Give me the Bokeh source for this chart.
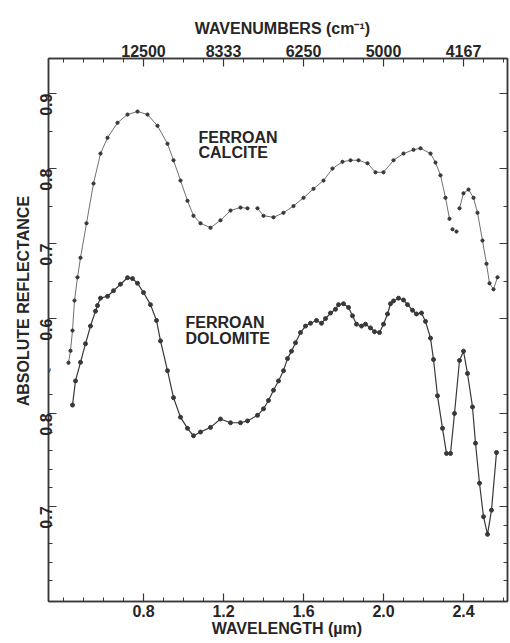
import math
import numpy as np
from bokeh.plotting import figure
from bokeh.models import (Range1d, LinearAxis, FixedTicker, CustomJSTickFormatter, Label)
from bokeh.embed import file_html
from bokeh.resources import INLINE

# ---------------- data ----------------
calcite_wl = [0.425, 0.435, 0.445, 0.455, 0.47, 0.485, 0.515, 0.55, 0.585, 0.62, 0.67, 0.72,
              0.77, 0.82, 0.87, 0.92, 0.95, 0.985, 1.02, 1.05, 1.085, 1.135, 1.185, 1.235,
              1.285, 1.32, 1.37, 1.40, 1.45, 1.50, 1.55, 1.60, 1.65, 1.70, 1.745, 1.795,
              1.835, 1.875, 1.92, 1.96, 2.0, 2.05, 2.10, 2.15, 2.185, 2.235, 2.26, 2.285,
              2.31, 2.33, 2.345, 2.365, 2.38, 2.40, 2.425, 2.45, 2.47, 2.495, 2.515, 2.53,
              2.55, 2.57]
calcite_r = [0.541, 0.557, 0.584, 0.624, 0.655, 0.681, 0.727, 0.780, 0.820, 0.841, 0.861, 0.872,
             0.876, 0.872, 0.857, 0.833, 0.811, 0.784, 0.757, 0.737, 0.727, 0.721, 0.731, 0.744,
             0.748, 0.747, 0.747, 0.737, 0.735, 0.741, 0.750, 0.761, 0.773, 0.784, 0.800, 0.809,
             0.811, 0.811, 0.807, 0.795, 0.795, 0.811, 0.820, 0.825, 0.827, 0.820, 0.808, 0.791,
             0.761, 0.733, 0.719, 0.716, 0.747, 0.767, 0.772, 0.761, 0.741, 0.704, 0.673, 0.647,
             0.639, 0.655]
# connected stretches of the calcite trace (wavelength limits)
calcite_segments = [(0.42, 1.33), (1.36, 2.335), (2.375, 2.6)]

dolomite_wl = [0.445, 0.46, 0.485, 0.51, 0.535, 0.56, 0.57, 0.585, 0.62, 0.65, 0.685, 0.72,
               0.745, 0.77, 0.80, 0.835, 0.865, 0.885, 0.92, 0.95, 0.985, 1.02, 1.05, 1.085,
               1.135, 1.185, 1.235, 1.285, 1.32, 1.37, 1.40, 1.425, 1.45, 1.475, 1.50, 1.52,
               1.54, 1.56, 1.585, 1.61, 1.635, 1.665, 1.69, 1.71, 1.735, 1.76, 1.775, 1.80,
               1.825, 1.845, 1.865, 1.89, 1.91, 1.935, 1.955, 1.98, 2.0, 2.02, 2.035, 2.05,
               2.075, 2.10, 2.12, 2.145, 2.165, 2.19, 2.21, 2.235, 2.25, 2.27, 2.295, 2.315,
               2.335, 2.355, 2.38, 2.40, 2.42, 2.445, 2.46, 2.48, 2.50, 2.52, 2.54, 2.565]
dolomite_r = [0.809, 0.835, 0.855, 0.875, 0.894, 0.910, 0.916, 0.924, 0.926, 0.932, 0.939, 0.946,
              0.945, 0.940, 0.930, 0.917, 0.900, 0.878, 0.846, 0.817, 0.796, 0.784, 0.776, 0.780,
              0.785, 0.794, 0.790, 0.790, 0.792, 0.798, 0.805, 0.814, 0.825, 0.835, 0.846, 0.859,
              0.867, 0.876, 0.887, 0.894, 0.897, 0.900, 0.897, 0.902, 0.908, 0.912, 0.917, 0.918,
              0.914, 0.905, 0.896, 0.894, 0.896, 0.892, 0.888, 0.887, 0.896, 0.907, 0.918, 0.921,
              0.924, 0.922, 0.917, 0.911, 0.907, 0.908, 0.899, 0.881, 0.858, 0.819, 0.784, 0.757,
              0.757, 0.800, 0.857, 0.867, 0.843, 0.807, 0.768, 0.725, 0.689, 0.670, 0.696, 0.758]

wl_major = [0.8, 1.2, 1.6, 2.0, 2.4]
wl_minor = [0.4, 0.5, 0.6, 0.7, 0.9, 1.0, 1.1, 1.3, 1.4, 1.5, 1.7, 1.8, 1.9, 2.1, 2.2, 2.3, 2.5, 2.6]
upper_major = [0.6, 0.7, 0.8, 0.9]
upper_minor = [0.65, 0.75, 0.85]
lower_major = [0.7, 0.8]
lower_minor = [0.62, 0.64, 0.66, 0.68, 0.72, 0.74, 0.76, 0.78, 0.82]
lower_break = 0.845

# ---------------- scales ----------------
X0, X1 = 0.325, 2.62
U0, U1 = 0.2227, 0.9467      # upper (calcite) reflectance scale
L0, L1 = 0.5978, 1.1817      # lower (dolomite) reflectance scale

def to_upper(v):
    return U0 + (v - L0) * (U1 - U0) / (L1 - L0)

INK = "#383838"
TXT = "#262626"
FONT = "Liberation Sans"
FS = "16px"
NB = "\u00a0"

p = figure(width=510, height=643, output_backend="svg", toolbar_location=None,
           x_range=Range1d(X0, X1), y_range=Range1d(U0, U1),
           x_axis_location=None, y_axis_location=None,
           min_border_left=48, min_border_right=3, min_border_top=58, min_border_bottom=42,
           background_fill_color="white", border_fill_color="white")
p.extra_y_ranges = {"lower": Range1d(L0, L1)}
p.xgrid.visible = False
p.ygrid.visible = False
p.outline_line_color = INK
p.outline_line_width = 1.5


def style(ax):
    ax.axis_line_color = INK
    ax.axis_line_width = 1.5
    ax.major_tick_line_color = INK
    ax.minor_tick_line_color = INK
    ax.major_tick_line_width = 1.2
    ax.minor_tick_line_width = 1
    ax.major_tick_in = 8
    ax.major_tick_out = 0
    ax.minor_tick_in = 4
    ax.minor_tick_out = 0
    ax.major_label_text_font = FONT
    ax.major_label_text_font_size = FS
    ax.major_label_text_font_style = "bold"
    ax.major_label_text_color = TXT
    ax.axis_label_text_font = FONT
    ax.axis_label_text_font_size = FS
    ax.axis_label_text_font_style = "bold"
    ax.axis_label_text_color = TXT


fmt1 = CustomJSTickFormatter(code="return tick.toFixed(1);")

bottom = LinearAxis(ticker=FixedTicker(ticks=wl_major, minor_ticks=wl_minor),
                    formatter=fmt1, axis_label=NB * 5 + "WAVELENGTH  (µm)")
style(bottom)
bottom.major_label_standoff = 3
bottom.axis_label_standoff = 0
p.add_layout(bottom, "below")

top = LinearAxis(ticker=FixedTicker(ticks=wl_major, minor_ticks=wl_minor),
                 formatter=CustomJSTickFormatter(code="return (1e4/tick).toFixed(0);"),
                 axis_label=NB * 3 + "WAVENUMBERS  (cm⁻¹)")
style(top)
top.major_label_standoff = 2
top.axis_label_standoff = 5
p.add_layout(top, "above")

y_ticks = upper_major + [to_upper(v) for v in lower_major]
y_minor = upper_minor + [to_upper(v) for v in lower_minor]
left_fmt = CustomJSTickFormatter(
    args=dict(U0=U0, U1=U1, L0=L0, L1=L1, brk=to_upper(lower_break)),
    code="""
    if (tick < brk) { const l = L0 + (tick - U0) * (L1 - L0) / (U1 - U0); return l.toFixed(1); }
    return tick.toFixed(1);
    """)
left = LinearAxis(ticker=FixedTicker(ticks=y_ticks, minor_ticks=y_minor), formatter=left_fmt,
                  axis_label=NB * 14 + "ABSOLUTE  REFLECTANCE")
style(left)
left.major_label_orientation = math.pi / 2
left.major_label_standoff = 2
left.axis_label_standoff = 0
p.add_layout(left, "left")

right = LinearAxis(ticker=FixedTicker(ticks=y_ticks, minor_ticks=y_minor),
                   formatter=CustomJSTickFormatter(code="return '';"))
style(right)
right.major_label_standoff = 0
right.major_label_text_font_size = "0px"
p.add_layout(right, "right")

# axis break mark
p.add_layout(Label(x=X0, y=to_upper(lower_break), text="~", angle=math.pi / 2.6,
                   text_align="center", text_baseline="middle", text_font=FONT,
                   text_font_size="15px", text_color=INK))

# ---------------- curves ----------------
cw = np.array(calcite_wl)
cr = np.array(calcite_r)
for lo, hi in calcite_segments:
    m = (cw >= lo) & (cw <= hi)
    p.line(cw[m], cr[m], line_color=INK, line_width=0.9, line_alpha=0.8)
p.scatter(calcite_wl, calcite_r, size=3.2, marker="circle", color=INK)

p.line(dolomite_wl, dolomite_r, y_range_name="lower", line_color=INK, line_width=1.2)
p.scatter(dolomite_wl, dolomite_r, y_range_name="lower", size=4, marker="circle", color=INK)

# curve labels
for x, y, t in [(1.075, 0.842, "FERROAN"), (1.075, 0.821, "CALCITE"),
                (1.01, 0.5953, "FERROAN"), (1.01, 0.5733, "DOLOMITE")]:
    p.add_layout(Label(x=x, y=y, text=t, text_align="left", text_baseline="middle",
                       text_font=FONT, text_font_size=FS, text_font_style="bold",
                       text_color=TXT))

open("out.html", "w").write(file_html(p, INLINE))
